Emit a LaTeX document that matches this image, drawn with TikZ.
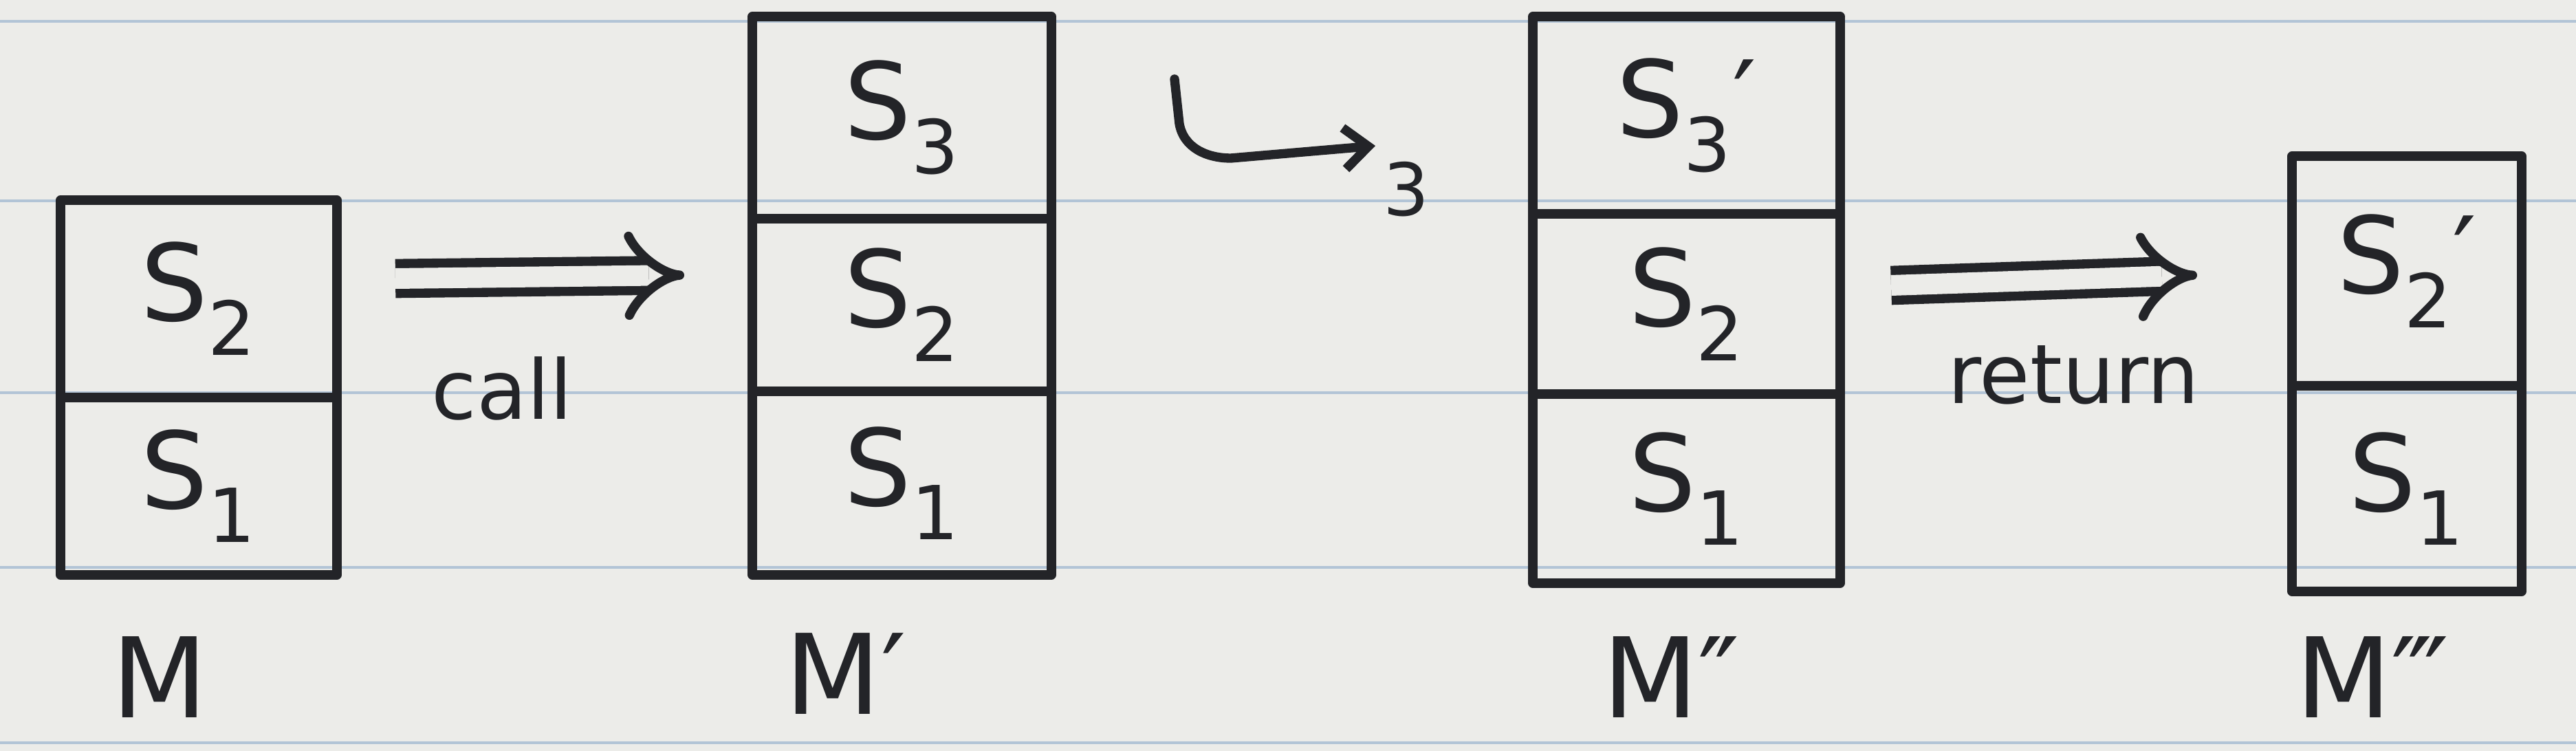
\documentclass[tikz,border=0pt]{standalone}
\usepackage{fontspec}
\setmainfont{DejaVu Sans}
\usetikzlibrary{arrows.meta}
\definecolor{ink}{RGB}{35,36,40}
\definecolor{paper}{RGB}{236,236,233}
\definecolor{ruleblue}{RGB}{178,196,214}
\newcommand\stk[2]{S\textsubscript{#1}#2}
\tikzset{
  inkline/.style={line width=3.8pt, draw=ink, line cap=round, line join=round},
  cell/.style={inkline, rectangle, inner sep=0pt, font=\fontsize{44}{44}\selectfont, text=ink},
  lbl/.style={font=\fontsize{46}{46}\selectfont, text=ink, inner sep=1pt},
  word/.style={font=\fontsize{34}{34}\selectfont, text=ink},
  dblarrow/.style={draw=ink, line width=3.8pt, double=paper, double distance=0.3cm, -{Implies}},
  hookarrow/.style={inkline, -{Straight Barb[length=0.35cm, width=0.6cm]}},
  paperrule/.style={draw=ruleblue, line width=1.2pt},
}
\begin{document}
\begin{tikzpicture}[x=1cm, y=-1cm]
\fill[paper] (0,0) rectangle (37.46,10.92);
\useasboundingbox (0,0) rectangle (37.46,10.92);
% ruled lines of the paper
\foreach \yy in {0.31,2.92,5.71,8.25,10.80}
  \draw[paperrule] (0,\yy) -- (37.46,\yy);

% box M
\node[cell, minimum width=4.02cm, minimum height=2.87cm] (m2) at (2.89,4.345) {\stk{2}{}};
\node[cell, minimum width=4.02cm, minimum height=2.58cm] (m1) at (2.89,7.07) {\stk{1}{}};
\node[lbl] (mlab) at (2.32,9.85) {M};

% box M'
\node[cell, minimum width=4.35cm, minimum height=2.94cm] (p3) at (13.115,1.71) {\stk{3}{}};
\node[cell, minimum width=4.35cm, minimum height=2.51cm] (p2) at (13.115,4.435) {\stk{2}{}};
\node[cell, minimum width=4.35cm, minimum height=2.67cm] (p1) at (13.115,7.025) {\stk{1}{}};
\node[lbl] (plab) at (12.3,9.8) {M′};

% box M''
\node[cell, minimum width=4.47cm, minimum height=2.87cm] (q3) at (24.525,1.675) {\stk{3}{′}};
\node[cell, minimum width=4.47cm, minimum height=2.62cm] (q2) at (24.525,4.42) {\stk{2}{}};
\node[cell, minimum width=4.47cm, minimum height=2.75cm] (q1) at (24.525,7.105) {\stk{1}{}};
\node[lbl] (qlab) at (24.3,9.85) {M″};

% box M'''
\node[cell, minimum width=3.34cm, minimum height=3.34cm] (r2) at (35.0,3.94) {\stk{2}{′}};
\node[cell, minimum width=3.34cm, minimum height=2.99cm] (r1) at (35.0,7.105) {\stk{1}{}};
\node[lbl] (rlab) at (34.5,9.85) {M‴};

% call arrow
\coordinate (ca1) at (5.75,4.05);
\coordinate (ca2) at (9.95,4.0);
\draw[dblarrow] (ca1) -- (ca2);
\node[word] (call) at (7.3,5.65) {call};

% hook arrow into s3
\coordinate (hk1) at (17.08,1.15);
\coordinate (hk2) at (20.0,2.12);
\draw[hookarrow] (hk1) -- (17.15,1.8) to[out=-80,in=180] (17.9,2.3) -- (hk2);
\node[font=\fontsize{30}{30}\selectfont, text=ink] (three) at (20.45,2.75) {3};

% return arrow
\coordinate (re1) at (27.5,4.15);
\coordinate (re2) at (31.95,4.0);
\draw[dblarrow] (re1) -- (re2);
\node[word] (ret) at (30.15,5.45) {return};
\end{tikzpicture}
\end{document}
